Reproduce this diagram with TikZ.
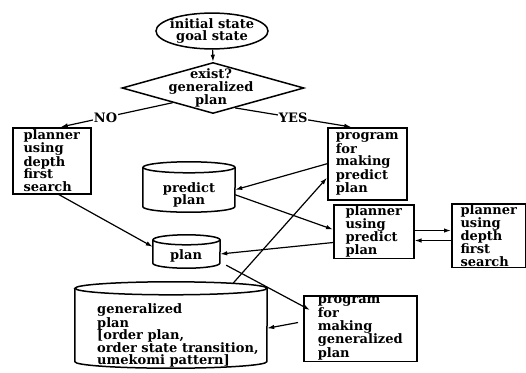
\documentclass[tikz,border=0pt]{standalone}
\usepackage{fontspec}
\setmainfont{DejaVu Serif}
\usetikzlibrary{positioning, shapes.geometric, arrows.meta}

\tikzset{
  txt/.style={font=\bfseries\fontsize{13}{12.6}\selectfont, align=left, inner sep=0pt},
  box/.style={draw, line width=1.5pt, font=\bfseries\fontsize{13}{12.6}\selectfont, align=left, inner xsep=3pt, inner ysep=1pt, anchor=north west},
  drum/.style={inner sep=0pt},
  lbl/.style={fill=white, inner sep=1pt, font=\bfseries\fontsize{13}{12.6}\selectfont},
  wire/.style={line width=1.2pt, -{Latex[length=7pt,width=4.5pt]}},
}

\begin{document}
\begin{tikzpicture}[x=1pt, y=-1pt]
    \useasboundingbox (0,0) rectangle (526,372);
    % start and question
    \node[txt, ellipse, draw, line width=1.5pt, align=center, inner xsep=-6pt, minimum width=112pt, minimum height=35pt] (start) at (212,31) {initial state\\goal state};
    \node[diamond, draw, line width=1.5pt, minimum width=182pt, minimum height=51pt, inner sep=0pt] (exist) at (213,88) {};
    \node[txt, align=center] (existlbl) at (211,88) {exist?\\generalized\\plan};
    % boxes
    \node[box, minimum width=78pt, minimum height=66pt] (dfs1) at (12,127) {planner\\using\\depth\\first\\search};
    \node[box, minimum width=79pt, minimum height=72pt] (mkpredict) at (327,127) {program\\for\\making\\predict\\plan};
    \node[box, minimum width=80pt, minimum height=53pt] (usepredict) at (333,204) {planner\\using\\predict\\plan};
    \node[box, minimum width=74pt, minimum height=62pt] (dfs2) at (451,203) {planner\\using\\depth\\first\\search};
    \node[box, minimum width=113pt, minimum height=62pt] (mkgen) at (303,295) {program\\for\\making\\generalized\\plan};
    % predict plan
    \node[drum, minimum width=92pt, minimum height=44.5pt] (predict) at (189,189.75) {};
    \draw[line width=1.5pt] (predict.north) ellipse (46pt and 5.5pt);
    \draw[line width=1.5pt] (predict.north west) -- ([yshift=5.5pt]predict.south west) arc (180:360:46pt and 5.5pt) -- (predict.north east);
    \node[txt, align=center] (predictlbl) at (189,195) {predict\\plan};
    % plan
    \node[drum, minimum width=67pt, minimum height=28pt] (plan) at (186.5,254) {};
    \draw[line width=1.5pt] (plan.north) ellipse (33.5pt and 5pt);
    \draw[line width=1.5pt] (plan.north west) -- ([yshift=5pt]plan.south west) arc (180:360:33.5pt and 5pt) -- (plan.north east);
    \node[txt] (planlbl) at (186,256) {plan};
    % generalized plan
    \node[drum, minimum width=192pt, minimum height=79.5pt] (gen) at (171,328.25) {};
    \draw[line width=1.5pt] (gen.north) ellipse (96pt and 6.5pt);
    \draw[line width=1.5pt] (gen.north west) -- ([yshift=6.5pt]gen.south west) arc (180:360:96pt and 6.5pt) -- (gen.north east);
    \node[txt, anchor=west] (genlbl) at (97,335.5) {generalized\\plan\\{}[order plan,\\order state transition,\\umekomi pattern]};
    % connectors
    \draw[wire] (start) -- (exist.north);
    \draw[wire] (exist.200) -- node[lbl, pos=0.6] {NO} ([xshift=9pt]dfs1.north);
    \draw[wire] (exist.-42) -- node[lbl] {YES} ([xshift=-16pt]mkpredict.north);
    \draw[wire] ([xshift=7pt]dfs1.south) -- (plan.168);
    \draw[wire] (mkpredict.west) -- (predict.east);
    \draw[wire] ([yshift=-5pt]predict.east) -- ([yshift=2pt]usepredict.west);
    \draw[wire] ([yshift=-11pt]usepredict.west) -- (plan.east);
    \draw[wire] ([xshift=62pt,yshift=5pt]gen.north) -- ([yshift=-14pt]mkpredict.west);
    \draw[wire] ([xshift=6pt,yshift=3pt]plan.south east) -- ([xshift=7pt,yshift=-15pt]mkgen.north west);
    \draw[wire] ([xshift=-5pt,yshift=6pt]mkgen.west) -- (gen.east);
    \coordinate (hi) at ([yshift=1pt]usepredict.east);
    \coordinate (lo) at ([yshift=-9pt]usepredict.east);
    \draw[wire] (hi) -- (hi -| dfs2.west);
    \draw[wire] (lo -| dfs2.west) -- (lo);
\end{tikzpicture}
\end{document}
